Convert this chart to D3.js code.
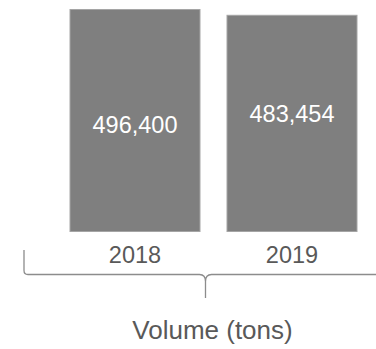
<!DOCTYPE html>
<html>
<head>
<meta charset="utf-8">
<script src="https://cdn.jsdelivr.net/npm/d3@7"></script>
<style>
  body { margin: 0; background: #ffffff; }
  svg { display: block; font-family: "Liberation Sans", Arial, sans-serif; }
</style>
</head>
<body>
<script>
// Chart data.
const years = ['2018', '2019'];
const volumes = [496400, 483454];
const axisTitle = 'Volume (tons)';

const size = {width: 376, height: 349};

const svg = d3.select('body')
  .append('svg')
  .attr('width', size.width)
  .attr('height', size.height);

// Scales.
const x = d3.scaleBand()
  .domain(years)
  .range([56.5, 370.5])
  .paddingInner(0.172)
  .paddingOuter(0.086);

const y = d3.scaleLinear()
  .domain([0, d3.max(volumes)])
  .range([231.5, 9.5]);

const rows = years.map((yr, i) => ({year: yr, value: volumes[i]}));

// Bars.
svg.selectAll('rect.bar')
  .data(rows)
  .enter()
  .append('rect')
  .attr('class', 'bar')
  .attr('x', d => x(d.year))
  .attr('y', d => y(d.value))
  .attr('width', x.bandwidth())
  .attr('height', d => y(0) - y(d.value))
  .style('fill', '#7f7f7f')
  .style('stroke', '#a5a5a5')
  .style('stroke-width', 1);

// Value labels (the original places them a little off-centre).
const labelShift = [12, -1];
svg.selectAll('text.value')
  .data(rows)
  .enter()
  .append('text')
  .attr('class', 'value')
  .attr('x', d => x(d.year) + x.bandwidth() / 2)
  .attr('y', (d, i) => (y(d.value) + y(0)) / 2 + labelShift[i])
  .attr('text-anchor', 'middle')
  .style('font-size', '23.5px')
  .style('fill', '#ffffff')
  .text(d => d3.format(',')(d.value));

// Year labels.
svg.selectAll('text.year')
  .data(rows)
  .enter()
  .append('text')
  .attr('class', 'year')
  .attr('x', d => x(d.year) + x.bandwidth() / 2)
  .attr('y', 263)
  .attr('text-anchor', 'middle')
  .style('font-size', '23.5px')
  .style('fill', '#595959')
  .text(d => d.year);

// Curly bracket under the categories.
const bx0 = 24, bTop = 250, bLine = 274.5, bMid = 205.5, bTip = 298, bx1 = size.width;
const bracket = d3.path();
bracket.moveTo(bx0, bTop);
bracket.lineTo(bx0, bLine - 4);
bracket.quadraticCurveTo(bx0, bLine, bx0 + 4, bLine);
bracket.lineTo(bMid - 6, bLine);
bracket.quadraticCurveTo(bMid, bLine, bMid, bLine + 7);
bracket.lineTo(bMid, bTip);
bracket.moveTo(bMid, bLine + 7);
bracket.quadraticCurveTo(bMid, bLine, bMid + 6, bLine);
bracket.lineTo(bx1, bLine);

svg.append('path')
  .attr('d', bracket.toString())
  .style('fill', 'none')
  .style('stroke', '#8c8c8c')
  .style('stroke-width', 1.3);

// Axis title.
svg.append('text')
  .attr('x', 212.5)
  .attr('y', 339)
  .attr('text-anchor', 'middle')
  .style('font-size', '26px')
  .style('fill', '#595959')
  .text(axisTitle);
</script>
</body>
</html>
